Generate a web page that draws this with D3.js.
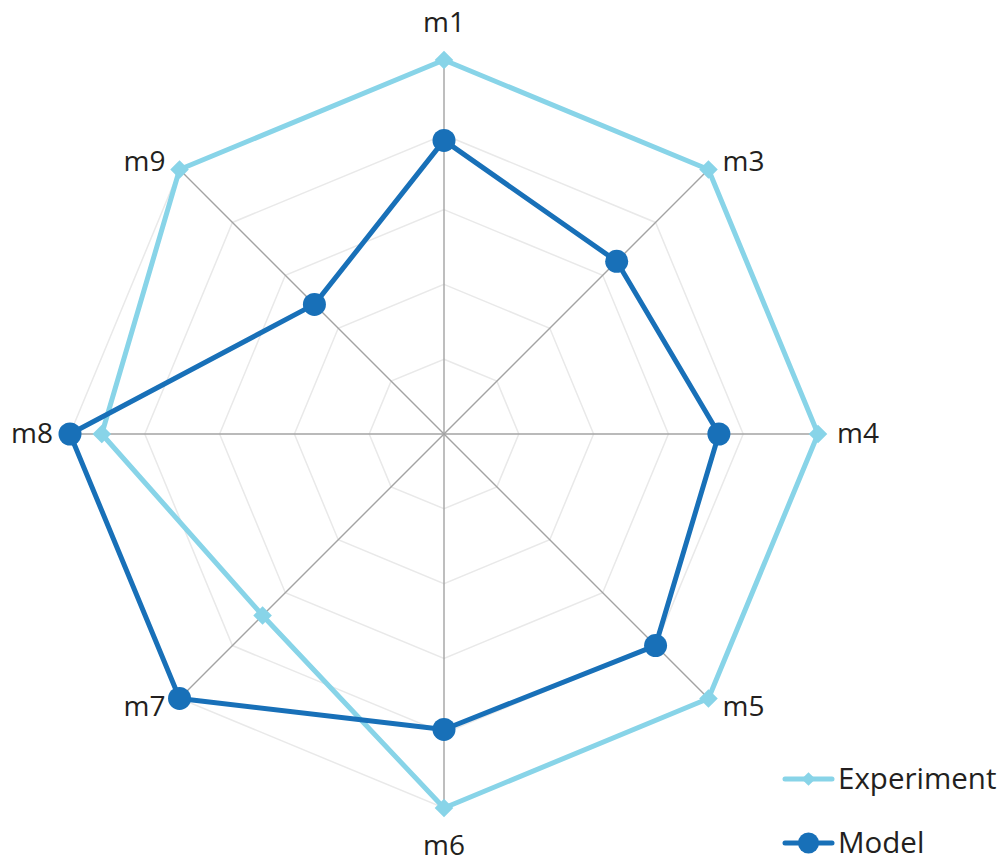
<!DOCTYPE html>
<html>
<head>
<meta charset="utf-8">
<script src="https://cdn.jsdelivr.net/npm/d3@7"></script>
<style>
  html, body { margin: 0; padding: 0; background: #ffffff; }
  svg { display: block; }
  text { font-family: "Open Sans", "Segoe UI", sans-serif; fill: #231f20; }
</style>
</head>
<body>
<svg id="chart" width="1006" height="862"></svg>
<script>
// ---- data ----
const categories = ["m1", "m3", "m4", "m5", "m6", "m7", "m8", "m9"];
const experiment = [1.0, 1.0, 1.0, 1.0, 1.0, 0.686, 0.915, 1.0];
const model      = [0.785, 0.653, 0.735, 0.80, 0.79, 1.0, 1.0, 0.49];
const seriesNames = ["Experiment", "Model"];
const gridTicks = [0.2, 0.4, 0.6, 0.8, 1.0];

// ---- layout ----
const cx = 444, cy = 434, R = 374;
const svg = d3.select("#chart");
const g = svg.append("g").attr("transform", `translate(${cx},${cy})`);

const r = d3.scaleLinear().domain([0, 1]).range([0, R]);
const angle = d3.scalePoint().domain(categories).range([0, 2 * Math.PI * (categories.length - 1) / categories.length]);
const px = (cat, v) => r(v) * Math.sin(angle(cat));
const py = (cat, v) => -r(v) * Math.cos(angle(cat));

// grid rings
const ringLine = d3.lineRadial().angle(d => angle(d.c)).radius(d => r(d.v)).curve(d3.curveLinearClosed);
g.append("g").selectAll("path").data(gridTicks).join("path")
  .attr("d", t => ringLine(categories.map(c => ({ c, v: t }))))
  .attr("fill", "none").attr("stroke", "#e9e9e9").attr("stroke-width", 1.5);

// spokes
g.append("g").selectAll("line").data(categories).join("line")
  .attr("x1", 0).attr("y1", 0)
  .attr("x2", c => px(c, 1)).attr("y2", c => py(c, 1))
  .attr("stroke", "#a3a3a3").attr("stroke-width", 1.4);

// labels
const labelOff = {
  m1: [0, -37], m3: [14, -8], m4: [19, 0], m5: [14, 9],
  m6: [0, 38], m7: [-14, 9], m8: [-17, 0], m9: [-14, -8]
};
g.append("g").selectAll("text").data(categories).join("text")
  .attr("x", c => px(c, 1) + labelOff[c][0])
  .attr("y", c => py(c, 1) + labelOff[c][1])
  .attr("dy", "0.32em")
  .attr("text-anchor", c => {
    const s = Math.sin(angle(c));
    return Math.abs(s) < 0.01 ? "middle" : (s > 0 ? "start" : "end");
  })
  .attr("font-size", 28)
  .text(c => c);

const colors = { Experiment: "#88d4e8", Model: "#1870b8" };
const dataBySeries = { Experiment: experiment, Model: model };

const seriesLine = d3.lineRadial().angle(d => angle(d.c)).radius(d => r(d.v)).curve(d3.curveLinearClosed);
const diamond = d3.symbol().type(d3.symbolDiamond2);

seriesNames.forEach(name => {
  const pts = categories.map((c, i) => ({ c, v: dataBySeries[name][i] }));
  g.append("path").datum(pts)
    .attr("d", seriesLine)
    .attr("fill", "none")
    .attr("stroke", colors[name])
    .attr("stroke-width", 5)
    .attr("stroke-linejoin", "round");
  if (name === "Experiment") {
    g.append("g").selectAll("path").data(pts).join("path")
      .attr("transform", d => `translate(${px(d.c, d.v)},${py(d.c, d.v)})`)
      .attr("d", diamond.size(220)())
      .attr("fill", colors[name]);
  } else {
    g.append("g").selectAll("circle").data(pts).join("circle")
      .attr("cx", d => px(d.c, d.v)).attr("cy", d => py(d.c, d.v))
      .attr("r", 11.5)
      .attr("fill", colors[name]);
  }
});

// legend
const legend = svg.append("g");
const legY = { Experiment: 779, Model: 843 };
seriesNames.forEach(name => {
  const y = legY[name];
  legend.append("line").attr("x1", 785).attr("x2", 832).attr("y1", y).attr("y2", y)
    .attr("stroke", colors[name]).attr("stroke-width", 5).attr("stroke-linecap", "round");
  if (name === "Experiment") {
    legend.append("path").attr("transform", `translate(808.5,${y})`)
      .attr("d", d3.symbol().type(d3.symbolDiamond2).size(120)())
      .attr("fill", colors[name]);
  } else {
    legend.append("circle").attr("cx", 808.5).attr("cy", y).attr("r", 10.5).attr("fill", colors[name]);
  }
  legend.append("text").attr("x", 838).attr("y", y).attr("dy", "0.35em")
    .attr("font-size", 29.5).text(name);
});
</script>
</body>
</html>
